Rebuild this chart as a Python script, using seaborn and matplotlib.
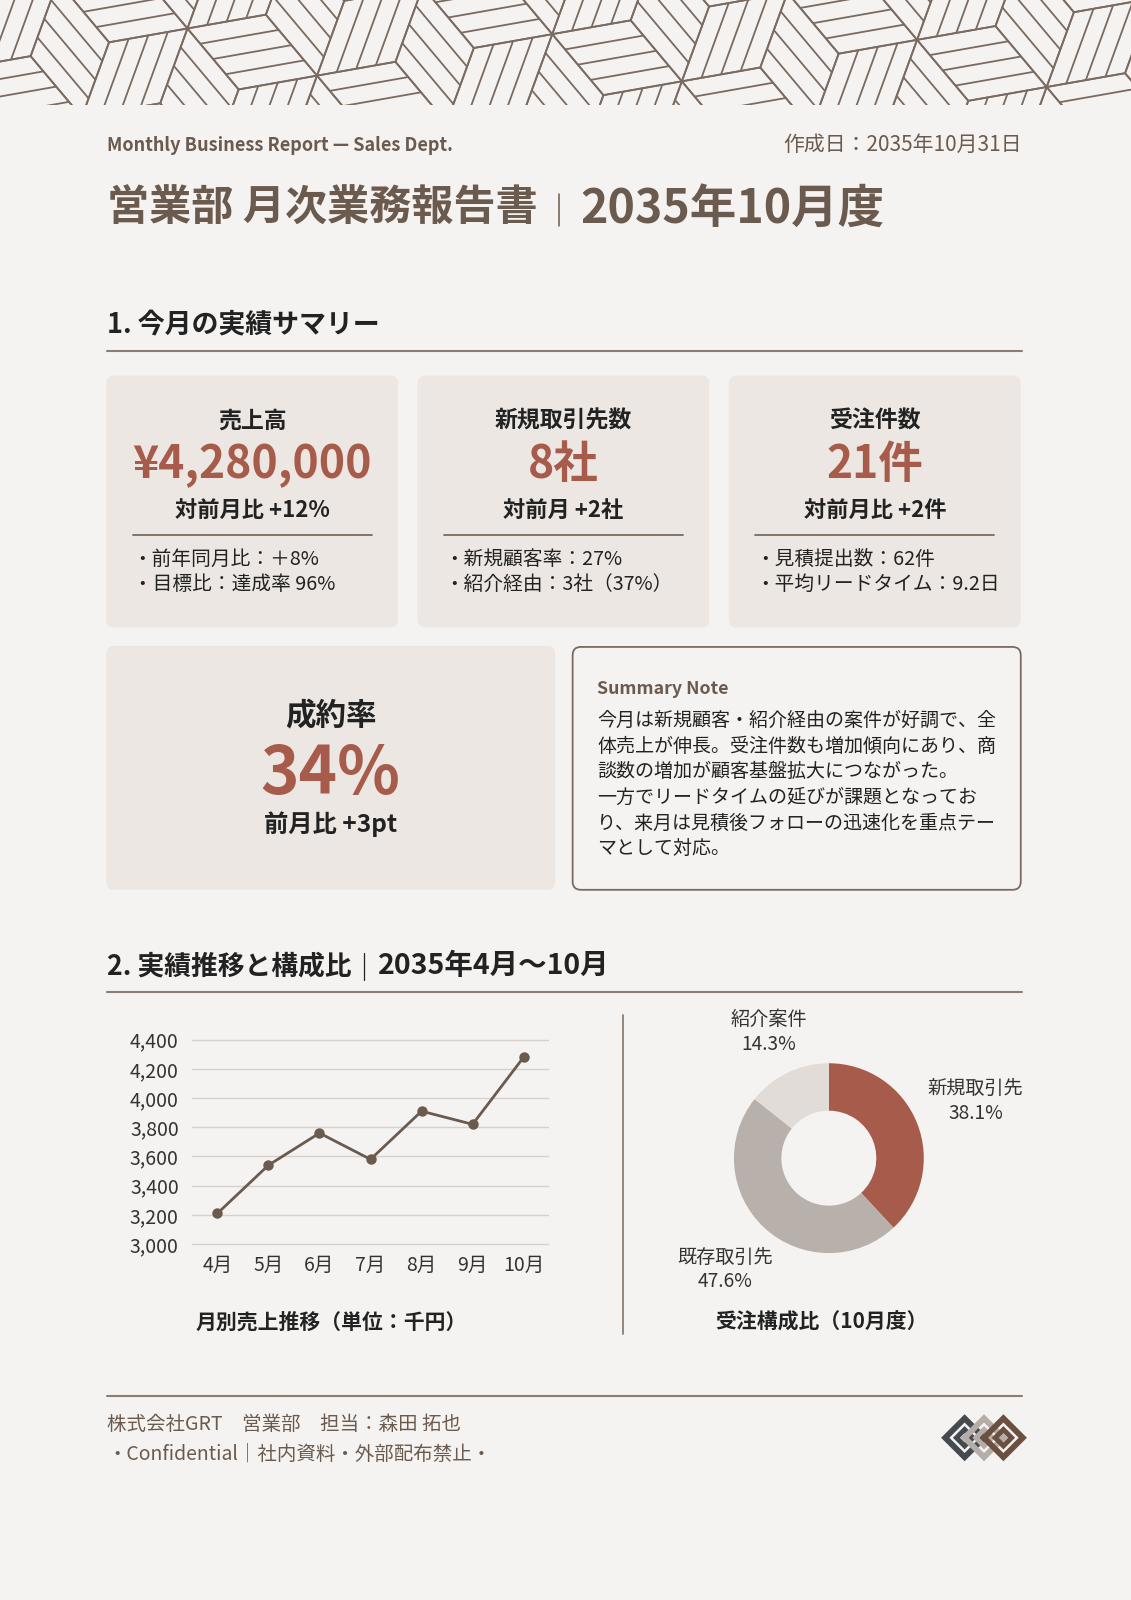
import numpy as np
import pandas as pd
import matplotlib
matplotlib.use('Agg')
import matplotlib.pyplot as plt
import seaborn as sns
from matplotlib.patches import FancyBboxPatch, Polygon
from matplotlib.collections import LineCollection

#=========================
# 1: PODACI
#=========================
months = ['4月', '5月', '6月', '7月', '8月', '9月', '10月']
sales = [3210, 3540, 3760, 3580, 3910, 3820, 4280]   # 千円
y_ticks = [3000, 3200, 3400, 3600, 3800, 4000, 4200, 4400]

segments = ['新規取引先', '既存取引先', '紹介案件']
seg_counts = [8, 10, 3]   # 21件

card_titles = ['売上高', '新規取引先数', '受注件数']
card_values = ['¥4,280,000', '8社', '21件']
card_changes = ['対前月比 +12%', '対前月 +2社', '対前月比 +2件']
card_notes = [
    ['・前年同月比：＋8%', '・目標比：達成率 96%'],
    ['・新規顧客率：27%', '・紹介経由：3社（37%）'],
    ['・見積提出数：62件', '・平均リードタイム：9.2日'],
]

rate_title = '成約率'
rate_value = '34%'
rate_change = '前月比 +3pt'

note_title = 'Summary Note'
note_lines = [
    '今月は新規顧客・紹介経由の案件が好調で、全',
    '体売上が伸長。受注件数も増加傾向にあり、商',
    '談数の増加が顧客基盤拡大につながった。',
    '一方でリードタイムの延びが課題となってお',
    'り、来月は見積後フォローの迅速化を重点テー',
    'マとして対応。',
]

# boje
BG = '#F5F3F1'
CARD = '#ECE7E2'
BROWN = '#6B5A4E'
RED = '#A65B4B'
RULE = '#8C7D73'
INK = '#222222'
seg_colors = ['#A65B4B', '#B8B0AB', '#E1DCD7']

sns.set_theme(style='white')
plt.rcParams['font.family'] = ['Noto Sans CJK JP', 'DejaVu Sans']

# koordinatni sistem stranice (1108 x 1568, isti odnos kao 1131 x 1600)
W, H = 1108, 1568
fig = plt.figure(figsize=(11.31, 16), dpi=100, facecolor=BG)
ax = fig.add_axes([0, 0, 1, 1])
ax.set_xlim(0, W)
ax.set_ylim(H, 0)
ax.axis('off')

#=========================
# 2: DEKORATIVNI ZAGLAVLJE
#=========================
band = 103
ax_pat = fig.add_axes([0, 1 - band / H, 1, band / H])
ax_pat.set_xlim(0, W)
ax_pat.set_ylim(band, 0)
ax_pat.axis('off')
s = 78
n_str = 4
rot = np.deg2rad(-20)
R = np.array([[np.cos(rot), -np.sin(rot)], [np.sin(rot), np.cos(rot)]])
va = np.array([0.0, 1.0])
vb = np.array([np.cos(np.deg2rad(210)), np.sin(np.deg2rad(210))])
vc = np.array([np.cos(np.deg2rad(330)), np.sin(np.deg2rad(330))])
L1 = (va - vb) * s
L2 = (va - vc) * s
segs = []
for i in range(-14, 15):
    for j in range(-14, 15):
        O = i * L1 + j * L2
        for p, q in [(va, vb), (vb, vc), (vc, va)]:
            for k in range(n_str + 1):
                st = O + q * s * k / n_str
                segs.append([st, st + p * s])
            segs.append([O, O + q * s])
            segs.append([O + p * s, O + p * s + q * s])
segs = np.array(segs) @ R.T
segs[:, :, 0] += 30
segs[:, :, 1] = 55 - segs[:, :, 1]
keep = (segs[:, :, 0].max(axis=1) > -20) & (segs[:, :, 0].min(axis=1) < W + 20) & \
       (segs[:, :, 1].max(axis=1) > -20) & (segs[:, :, 1].min(axis=1) < band + 20)
lc = LineCollection(segs[keep], colors='#7A6A60', linewidths=1.3)
ax_pat.add_collection(lc)

#=========================
# 3: NASLOV
#=========================
ax.text(105, 143, 'Monthly Business Report — Sales Dept.', fontsize=13, fontweight='bold',
        color=BROWN, va='center', ha='left')
ax.text(1001, 142, '作成日：2035年10月31日', fontsize=15, color=BROWN, va='center', ha='right')

renderer = fig.canvas.get_renderer()
inv = ax.transData.inverted()


def right_edge(t):
    bb = t.get_window_extent(renderer=renderer)
    return inv.transform((bb.x1, bb.y0))[0]


t1 = ax.text(105, 205, '営業部 月次業務報告書', fontsize=30.3, fontweight='bold', color=BROWN,
             va='center', ha='left')
x_sep = right_edge(t1) + 21
ax.plot([x_sep, x_sep], [190, 221], color=BROWN, lw=1.1)
ax.text(x_sep + 21, 205, '2035年10月度', fontsize=33.5, fontweight='bold', color=BROWN,
        va='center', ha='left')

#=========================
# 4: SEKCIJA 1
#=========================
ax.text(105, 318, '1. 今月の実績サマリー', fontsize=19.4, fontweight='bold', color=INK,
        va='center', ha='left')
ax.plot([105, 1001], [344, 344], color=RULE, lw=1.5)

card_x = [104, 409, 714]
for i, x0 in enumerate(card_x):
    ax.add_patch(FancyBboxPatch((x0, 368), 286, 247, boxstyle='round,pad=0,rounding_size=8',
                                fc=CARD, ec='none'))
    cx = x0 + 143
    ax.text(cx, 413, card_titles[i], fontsize=16.5, fontweight='bold', color=INK,
            ha='center', va='center')
    ax.text(cx, 456, card_values[i], fontsize=32, fontweight='bold', color=RED,
            ha='center', va='center')
    ax.text(cx, 500, card_changes[i], fontsize=16, fontweight='bold', color=INK,
            ha='center', va='center')
    ax.plot([x0 + 26, x0 + 260], [524, 524], color='#7A6A60', lw=1.3)
    for k, line in enumerate(card_notes[i]):
        ax.text(x0 + 26, 548 + k * 25, line, fontsize=14.2, color=INK, ha='left', va='center')

# kartica za stopu
ax.add_patch(FancyBboxPatch((104, 633), 440, 239, boxstyle='round,pad=0,rounding_size=8',
                            fc=CARD, ec='none'))
ax.text(324, 702, rate_title, fontsize=22, fontweight='bold', color=INK, ha='center', va='center')
ax.text(324, 759, rate_value, fontsize=47, fontweight='bold', color=RED, ha='center', va='center')
ax.text(324, 808, rate_change, fontsize=17.5, fontweight='bold', color=INK, ha='center', va='center')

# summary note
ax.add_patch(FancyBboxPatch((561, 634), 439, 238, boxstyle='round,pad=0,rounding_size=8',
                            fc=BG, ec='#7A6A60', lw=1.3))
ax.text(585, 675, note_title, fontsize=12.8, fontweight='bold', color=BROWN, ha='left', va='center')
for k, line in enumerate(note_lines):
    ax.text(585, 706 + k * 25.2, line, fontsize=13.7, color=INK, ha='left', va='center')

#=========================
# 5: SEKCIJA 2
#=========================
t2 = ax.text(105, 947, '2. 実績推移と構成比', fontsize=19.3, fontweight='bold', color=INK,
             va='center', ha='left')
x_sep2 = right_edge(t2) + 12
ax.plot([x_sep2, x_sep2], [934, 960], color=INK, lw=0.9)
ax.text(x_sep2 + 14, 947, '2035年4月〜10月', fontsize=20.5, fontweight='bold', color=INK,
        va='center', ha='left')
ax.plot([105, 1001], [972, 972], color=RULE, lw=1.5)
ax.plot([610, 610], [995, 1307], color=RULE, lw=1.3)

# linijski grafikon
ax_line = fig.add_axes([188 / W, 1 - 1222 / H, 350 / W, 206 / H])
ax_line.set_facecolor('none')
df_sales = pd.DataFrame({'month': months, 'sales': sales})
sns.lineplot(data=df_sales, x='month', y='sales', ax=ax_line, sort=False, color=BROWN,
             linewidth=2, marker='o', markersize=7.5, markeredgewidth=0)
ax_line.set_xlim(-0.5, len(months) - 0.5)
ax_line.set_ylim(2980, 4420)
ax_line.set_yticks(y_ticks)
ax_line.set_yticklabels([f'{v:,}' for v in y_ticks])
ax_line.grid(axis='y', color='#D6D1CC', lw=1)
ax_line.grid(axis='x', visible=False)
ax_line.set_axisbelow(True)
for sp in ax_line.spines.values():
    sp.set_visible(False)
ax_line.tick_params(axis='both', length=0, labelsize=14, colors='#333333')
ax_line.tick_params(axis='y', pad=9.5)
ax_line.tick_params(axis='x', pad=6)
ax_line.set_xlabel('')
ax_line.set_ylabel('')
ax.text(325, 1296, '月別売上推移（単位：千円）', fontsize=15, fontweight='bold', color=INK,
        ha='center', va='center')

# donut
ax_pie = fig.add_axes([(812 - 120) / W, 1 - (1135 + 120) / H, 240 / W, 240 / H])
wedges, _ = ax_pie.pie(seg_counts, colors=seg_colors, startangle=90, counterclock=False,
                       wedgeprops=dict(width=0.5, edgecolor='none'))
ax_pie.set_xlim(-1.29, 1.29)
ax_pie.set_ylim(-1.29, 1.29)
ax_pie.set_aspect('equal')
ax_pie.axis('off')
label_r = [1.66, 1.6, 1.47]
total = sum(seg_counts)
for w, name, cnt, r in zip(wedges, segments, seg_counts, label_r):
    mid = np.deg2rad((w.theta1 + w.theta2) / 2)
    ax_pie.text(r * np.cos(mid), r * np.sin(mid), f'{name}\n{cnt / total * 100:.1f}%',
                fontsize=13.8, color='#333333', ha='center', va='center', linespacing=1.25,
                clip_on=False)
ax.text(805, 1296, '受注構成比（10月度）', fontsize=15, fontweight='bold', color=INK,
        ha='center', va='center')

#=========================
# 6: PODNOZJE
#=========================
ax.plot([105, 1001], [1368, 1368], color=RULE, lw=1.5)
ax.text(105, 1396, '株式会社GRT　営業部　担当：森田 拓也', fontsize=14, color=BROWN,
        ha='left', va='center')
ax.text(105, 1425, '・Confidential｜社内資料・外部配布禁止・', fontsize=14, color=BROWN,
        ha='left', va='center')

# logo
for cx, col in [(945, '#454A50'), (964, '#B5ADA8'), (983, '#6B5040')]:
    for hd, lw in [(19, 4.2), (8, 3.6)]:
        ax.add_patch(Polygon([[cx - hd, 1409], [cx, 1409 - hd], [cx + hd, 1409], [cx, 1409 + hd]],
                             closed=True, fill=False, ec=col, lw=lw, joinstyle='miter'))

plt.savefig('out.png', dpi=100, facecolor=BG)
